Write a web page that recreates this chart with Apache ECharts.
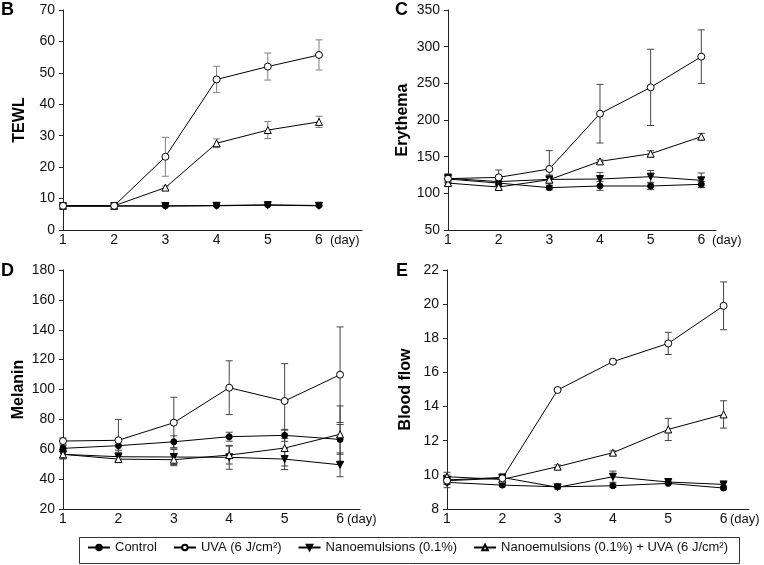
<!DOCTYPE html>
<html>
<head>
<meta charset="utf-8">
<script src="https://cdn.jsdelivr.net/npm/echarts@6/dist/echarts.min.js"></script>
<style>
html,body{margin:0;padding:0;background:#fff;}
#chart{width:764px;height:565px;}
</style>
</head>
<body>
<div id="chart"></div>
<script>
// ---------- data ----------
const days = [1, 2, 3, 4, 5, 6];
const seriesNames = ['Control', 'UVA (6 J/cm²)', 'Nanoemulsions (0.1%)', 'Nanoemulsions (0.1%) + UVA (6 J/cm²)'];

// Panel B: TEWL
const tewlControl  = [7.7, 7.7, 7.7, 7.8, 8.0, 7.8];
const tewlControlE = [0.2, 0.2, 0.2, 0.2, 0.2, 0.2];
const tewlUVA      = [7.7, 7.7, 23.3, 47.9, 52.0, 55.7];
const tewlUVAE     = [0.3, 0.3, 6.2, 4.2, 4.3, 4.8];
const tewlNano     = [7.6, 7.6, 7.6, 7.7, 7.9, 7.7];
const tewlNanoE    = [0.2, 0.2, 0.2, 0.2, 0.2, 0.2];
const tewlNanoUVA  = [7.7, 7.7, 13.5, 27.6, 31.8, 34.4];
const tewlNanoUVAE = [0.3, 0.3, 0.5, 1.4, 2.7, 1.8];

// Panel C: Erythema
const eryControl  = [119.5, 114, 107.7, 110, 110, 112.3];
const eryControlE = [4, 4, 3, 6, 5, 4];
const eryUVA      = [120, 121.8, 133.2, 208.6, 244.5, 286.4];
const eryUVAE     = [6, 10, 25, 40, 52, 36.5];
const eryNano     = [120.5, 116, 119, 119.5, 122.7, 117.7];
const eryNanoE    = [6, 5, 6, 9, 8.5, 10];
const eryNanoUVA  = [114, 108.6, 118.6, 143.6, 154, 177.3];
const eryNanoUVAE = [3, 3, 3, 2, 4, 4.5];

// Panel D: Melanin
const melControl  = [60.6, 62.4, 65, 68.4, 69.3, 66.6];
const melControlE = [2, 3, 4, 3, 4, 10];
const melUVA      = [65.5, 66, 77.8, 101.2, 92.3, 109.9];
const melUVAE     = [2, 14, 17, 18, 25, 32];
const melNano     = [56.6, 55, 54.8, 54.6, 53.4, 49.6];
const melNanoE    = [3, 3, 5, 8, 7, 8];
const melNanoUVA  = [56.6, 53.4, 53, 56.1, 60.8, 70];
const melNanoUVAE = [3, 2, 4, 6, 12, 19];

// Panel E: Blood flow
const bfControl  = [9.56, 9.4, 9.3, 9.36, 9.5, 9.23];
const bfControlE = [0.1, 0.1, 0.05, 0.1, 0.05, 0.1];
const bfUVA      = [9.66, 9.8, 14.97, 16.63, 17.7, 19.9];
const bfUVAE     = [0.2, 0.15, 0.05, 0.1, 0.65, 1.4];
const bfNano     = [9.7, 9.85, 9.27, 9.89, 9.58, 9.44];
const bfNanoE    = [0.45, 0.15, 0.1, 0.33, 0.05, 0.1];
const bfNanoUVA  = [9.89, 9.73, 10.48, 11.3, 12.66, 13.54];
const bfNanoUVAE = [0.1, 0.15, 0.1, 0.1, 0.65, 0.8];

// axis ticks [min, max, interval]
const yTicksB = [0, 70, 10];
const yTicksC = [50, 350, 50];
const yTicksD = [20, 180, 20];
const yTicksE = [8, 22, 2];

// ---------- layout ----------
const FONT = '"Liberation Sans", Arial, sans-serif';
const panels = [
  {grid:{left:63, top:10, width:299, height:220}, xmax:6.84, y:yTicksB, name:'TEWL', gap:35, letter:'B', lx:1, ly:1, dayX:330, dayY:234,
   vals:[[tewlControl,tewlControlE],[tewlUVA,tewlUVAE],[tewlNano,tewlNanoE],[tewlNanoUVA,tewlNanoUVAE]], errColor:'#808080'},
  {grid:{left:448, top:10, width:268, height:220}, xmax:6.29, y:yTicksC, name:'Erythema', gap:37, letter:'C', lx:395, ly:1, dayX:712, dayY:234,
   vals:[[eryControl,eryControlE],[eryUVA,eryUVAE],[eryNano,eryNanoE],[eryNanoUVA,eryNanoUVAE]], errColor:'#444'},
  {grid:{left:63, top:270, width:297, height:239}, xmax:6.36, y:yTicksD, name:'Melanin', gap:36, letter:'D', lx:1, ly:262, dayX:347, dayY:513,
   vals:[[melControl,melControlE],[melUVA,melUVAE],[melNano,melNanoE],[melNanoUVA,melNanoUVAE]], errColor:'#444'},
  {grid:{left:447, top:270, width:302, height:239}, xmax:6.46, y:yTicksE, name:'Blood flow', gap:33, letter:'E', lx:396, ly:262, dayX:730, dayY:513,
   vals:[[bfControl,bfControlE],[bfUVA,bfUVAE],[bfNano,bfNanoE],[bfNanoUVA,bfNanoUVAE]], errColor:'#444'}
];

const symbolDefs = [
  {symbol:'circle', size:6, rotate:0, color:'#000', border:'#000'},
  {symbol:'circle', size:7, rotate:0, color:'#fff', border:'#000'},
  {symbol:'triangle', size:7, rotate:180, color:'#000', border:'#000'},
  {symbol:'triangle', size:7, rotate:0, color:'#fff', border:'#000'}
];
// draw order (bottom to top)
const drawOrder = [2, 0, 3, 1];
const zOf = {2:3, 0:4, 3:5, 1:6};

const grids = [], xAxes = [], yAxes = [], series = [], graphics = [];

panels.forEach((p, i) => {
  grids.push(p.grid);
  xAxes.push({
    type:'value', gridIndex:i, min:1, max:p.xmax, interval:1,
    axisLine:{lineStyle:{color:'#222', width:1}},
    axisTick:{show:false}, splitLine:{show:false},
    axisLabel:{color:'#111', fontSize:14, fontFamily:FONT, margin:3,
      showMaxLabel:false,
      formatter: v => (Math.abs(v - Math.round(v)) < 1e-6 && v <= 6) ? String(Math.round(v)) : ''}
  });
  yAxes.push({
    type:'value', gridIndex:i, min:p.y[0], max:p.y[1], interval:p.y[2],
    axisLine:{show:true, lineStyle:{color:'#222', width:1}},
    axisTick:{show:true, length:4, inside:false, lineStyle:{color:'#222'}},
    splitLine:{show:false},
    axisLabel:{color:'#111', fontSize:14, fontFamily:FONT, margin:8},
    name:p.name, nameLocation:'middle', nameRotate:90, nameGap:p.gap,
    nameTextStyle:{fontSize:16, fontWeight:'bold', color:'#000', fontFamily:FONT}
  });
  p.vals.forEach((pair, k) => {
    const mean = pair[0], sd = pair[1];
    const errData = days.map((d, j) => [d, mean[j] - sd[j], mean[j] + sd[j]]);
    const col = p.errColor;
    series.push({
      type:'custom', name:'err', xAxisIndex:i, yAxisIndex:i, z:1,
      data:errData, encode:{x:0, y:[1,2]}, silent:true,
      renderItem:(params, api) => {
        const x = api.value(0);
        const a = api.coord([x, api.value(1)]);
        const b = api.coord([x, api.value(2)]);
        const w = 3.5;
        const st = {stroke:col, lineWidth:1};
        return {type:'group', children:[
          {type:'line', shape:{x1:a[0], y1:a[1], x2:b[0], y2:b[1]}, style:st},
          {type:'line', shape:{x1:a[0]-w, y1:a[1], x2:a[0]+w, y2:a[1]}, style:st},
          {type:'line', shape:{x1:b[0]-w, y1:b[1], x2:b[0]+w, y2:b[1]}, style:st}
        ]};
      }
    });
  });
  drawOrder.forEach(k => {
    const pair = p.vals[k];
    const s = symbolDefs[k];
    series.push({
      type:'line', name:seriesNames[k], xAxisIndex:i, yAxisIndex:i, z:zOf[k],
      data:days.map((d, j) => [d, pair[0][j]]),
      symbol:s.symbol, symbolSize:s.size, symbolRotate:s.rotate, showAllSymbol:true,
      lineStyle:{color:'#000', width:1},
      itemStyle:{color:s.color, borderColor:s.border, borderWidth:1},
      emphasis:{disabled:true}, animation:false
    });
  });
  graphics.push({type:'text', left:p.lx, top:p.ly, style:{text:p.letter, font:'bold 18px ' + FONT, fill:'#000'}});
  graphics.push({type:'text', left:p.dayX, top:p.dayY, style:{text:'(day)', font:'13px ' + FONT, fill:'#111'}});
});

graphics.push({type:'rect', left:77, top:535, shape:{width:660, height:26}, style:{fill:'none', stroke:'#333', lineWidth:1}});

const chart = echarts.init(document.getElementById('chart'), null, {renderer:'canvas'});
chart.setOption({
  animation:false,
  backgroundColor:'#fff',
  grid:grids, xAxis:xAxes, yAxis:yAxes, series:series,
  graphic:graphics,
  legend:{
    data:seriesNames, left:87, top:541, itemWidth:22, itemHeight:7, itemGap:16,
    padding:0,
    textStyle:{fontSize:13, fontFamily:FONT, color:'#111'},
    selectedMode:false
  }
});
</script>
</body>
</html>
